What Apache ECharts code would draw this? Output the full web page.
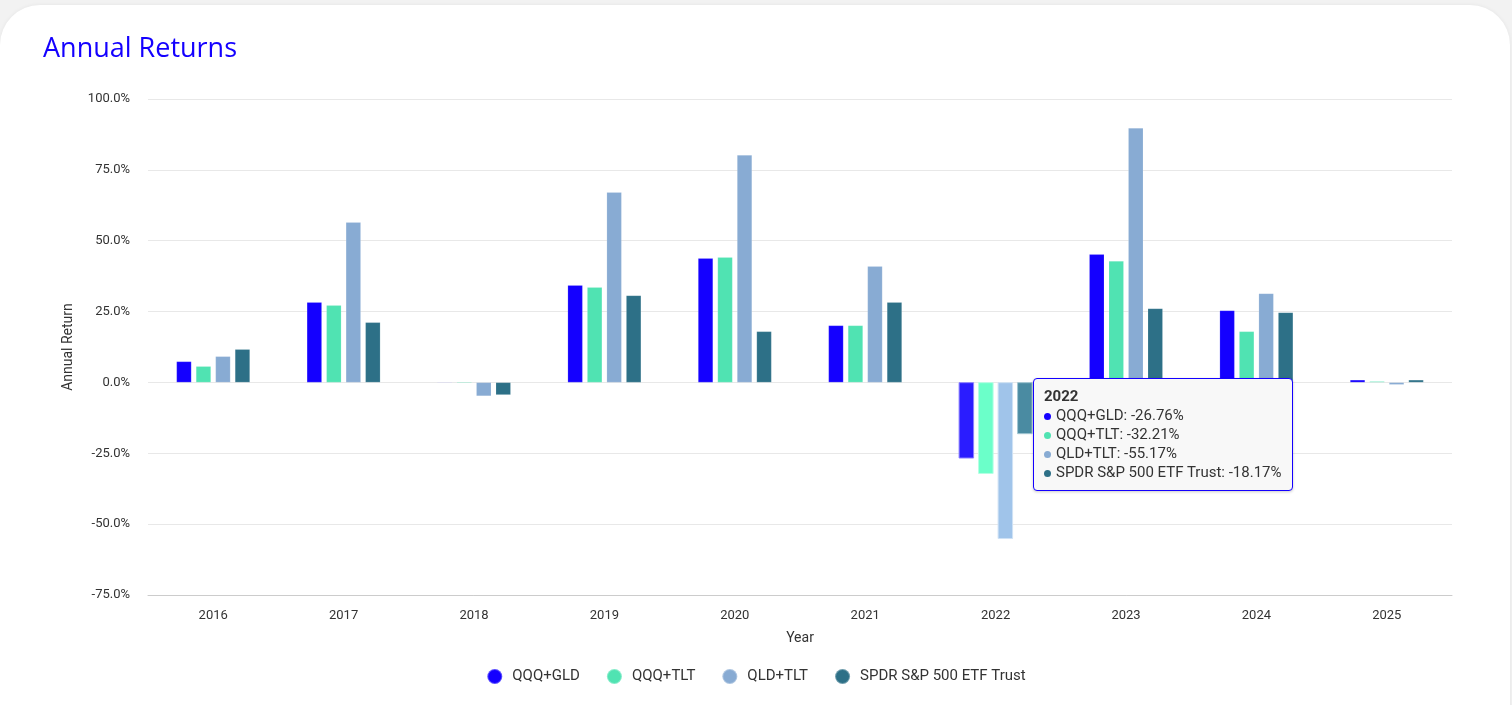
<!DOCTYPE html>
<html>
<head>
<meta charset="utf-8">
<script src="https://cdn.jsdelivr.net/npm/echarts@6/dist/echarts.min.js"></script>
<style>
html,body{margin:0;padding:0;width:1512px;height:705px;overflow:hidden;background:#f2f2f2;}
#card{position:absolute;left:0;top:5px;width:1510px;height:760px;background:#fff;border-radius:40px;box-shadow:0 0 4px rgba(0,0,0,0.06);}
#chart{position:absolute;left:0;top:0;width:1512px;height:705px;}
</style>
</head>
<body>
<div id="card"></div>
<div id="chart"></div>
<script>
const years = ['2016','2017','2018','2019','2020','2021','2022','2023','2024','2025'];
const seriesNames = ['QQQ+GLD','QQQ+TLT','QLD+TLT','SPDR S&P 500 ETF Trust'];
const qqqGld = [7.4, 28.3, -0.2, 34.3, 43.8, 20.1, -26.76, 45.2, 25.4, 0.9];
const qqqTlt = [5.7, 27.2, -0.3, 33.6, 44.2, 20.1, -32.21, 42.8, 18.0, 0.4];
const qldTlt = [9.2, 56.5, -4.8, 67.1, 80.2, 41.0, -55.17, 89.8, 31.4, -0.8];
const spy = [11.7, 21.2, -4.4, 30.7, 18.0, 28.3, -18.17, 26.1, 24.7, 0.9];
const yTicks = [-75, -50, -25, 0, 25, 50, 75, 100];

const colors = ['#1400ff', '#50e3b2', '#88abd3', '#2d7087'];
const emphColors = ['#2a1cff', '#6bffc9', '#a0c4ea', '#4a8ba2'];
const emphBorders = ['#8c80ff', '#b5ffe4', '#cfe2f5', '#a0c5d2'];
const allData = [qqqGld, qqqTlt, qldTlt, spy];

const chart = echarts.init(document.getElementById('chart'));
const option = {
  animation: false,
  title: {
    text: 'Annual Returns', left: 38, top: 31,
    textStyle: {color: '#1400ff', fontSize: 27, fontWeight: 500, fontFamily: 'Open Sans'}
  },
  grid: {left: 148, right: 60, top: 99, bottom: 110},
  legend: {
    data: seriesNames, bottom: 15, left: 'center', icon: 'circle',
    itemWidth: 15, itemHeight: 15, itemGap: 26,
    textStyle: {fontSize: 15, color: '#333', fontFamily: 'Roboto', padding: [0, 0, 0, 5]}
  },
  tooltip: {
    trigger: 'axis',
    axisPointer: {type: 'none'},
    backgroundColor: '#f8f8f8',
    borderColor: '#1400ff',
    borderWidth: 1,
    padding: [8, 10],
    position: function(){ return [1033, 378]; },
    extraCssText: 'box-shadow:0 1px 3px rgba(0,0,0,0.2);border-radius:4px;',
    formatter: function(params){
      let s = '<div style="font-family:Roboto;font-size:15px;color:#333;line-height:19px;">';
      s += '<div style="font-weight:bold;">' + params[0].axisValue + '</div>';
      params.forEach(function(p){
        s += '<div><span style="display:inline-block;width:7px;height:7px;border-radius:50%;background:' + colors[p.seriesIndex] + ';margin-right:5px;vertical-align:middle;"></span>' + p.seriesName + ': ' + p.value.toFixed(2) + '%</div>';
      });
      return s + '</div>';
    }
  },
  xAxis: {
    type: 'category', data: years,
    name: 'Year', nameLocation: 'middle', nameGap: 36,
    nameTextStyle: {fontSize: 14, color: '#333', fontFamily: 'Roboto'},
    axisLine: {onZero: false, lineStyle: {color: '#ccc'}},
    axisTick: {show: false},
    axisLabel: {fontSize: 13, color: '#333', margin: 14, fontFamily: 'Roboto'}
  },
  yAxis: {
    type: 'value', min: -75, max: 100, interval: 25,
    name: 'Annual Return', nameLocation: 'middle', nameGap: 73,
    nameTextStyle: {fontSize: 14, color: '#333', fontFamily: 'Roboto'},
    axisLine: {show: false}, axisTick: {show: false},
    splitLine: {lineStyle: {color: '#e8e8e8'}},
    axisLabel: {fontSize: 13, color: '#333', margin: 18, fontFamily: 'Roboto',
      formatter: function(v){ return v.toFixed(1) + '%'; }}
  },
  series: seriesNames.map(function(name, i){
    return {
      name: name, type: 'bar', data: allData[i],
      barWidth: 15, barGap: '30%',
      itemStyle: {color: colors[i], borderColor: 'rgba(255,255,255,0.3)', borderWidth: 0.5},
      emphasis: {itemStyle: {color: emphColors[i], borderColor: emphBorders[i], borderWidth: 1}}
    };
  })
};
chart.setOption(option);
chart.dispatchAction({type: 'highlight', seriesIndex: [0,1,2,3], dataIndex: 6});
chart.dispatchAction({type: 'showTip', seriesIndex: 0, dataIndex: 6});
</script>
</body>
</html>
